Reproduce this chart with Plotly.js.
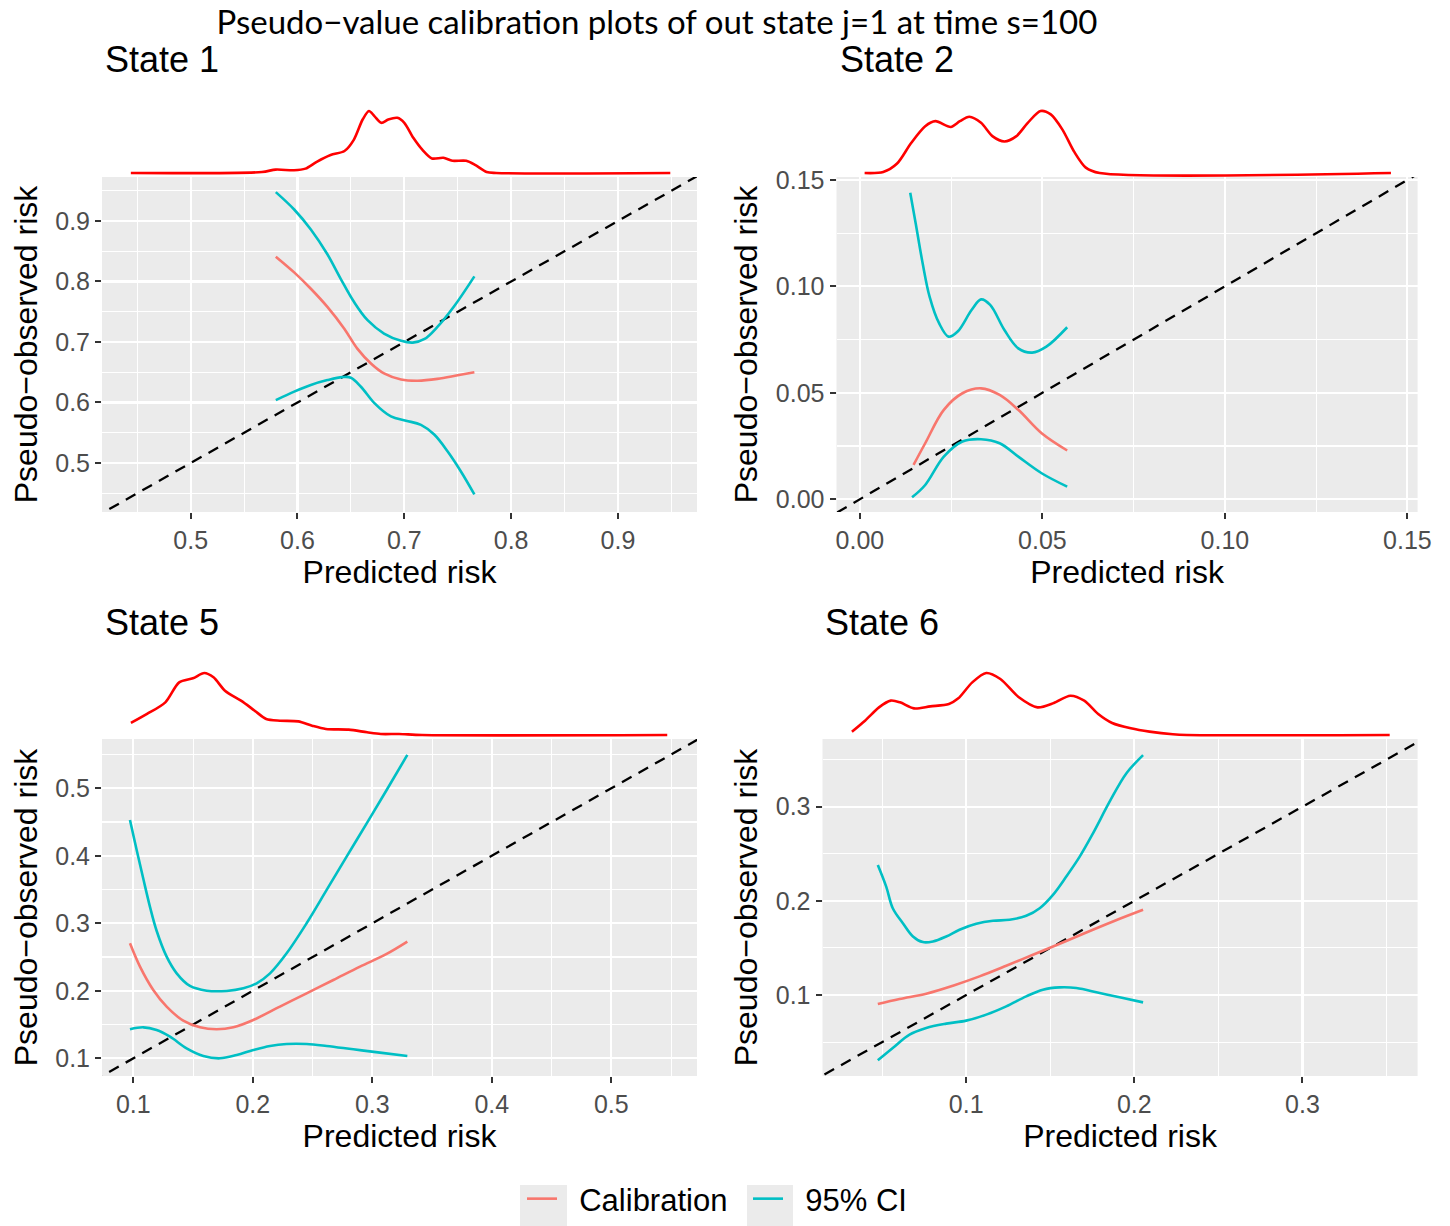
<!DOCTYPE html>
<html><head><meta charset="utf-8">
<script src="https://cdn.plot.ly/plotly-3.0.1.min.js"></script>
<style>html,body{margin:0;padding:0;background:#fff;}</style>
</head><body>
<div id="chart" style="width:1450px;height:1226px;"></div>
<script>
// ---------- DATA ----------
const panelTitles = ["State 1", "State 2", "State 5", "State 6"];
const mainTitle = "Pseudo\u2212value calibration plots of out state j=1 at time s=100";
const xTitle = "Predicted risk";
const yTitle = "Pseudo\u2212observed risk";
const legendNames = ["Calibration", "95% CI"];
const diagLine = [-1, 2];

// State 1
const s1_cal_x = [0.5797, 0.5969, 0.6125, 0.628, 0.6438, 0.656, 0.669, 0.681, 0.697, 0.7125, 0.731, 0.75, 0.7656];
const s1_cal_y = [0.841, 0.815, 0.788, 0.758, 0.722, 0.689, 0.664, 0.648, 0.638, 0.636, 0.639, 0.645, 0.650];
const s1_up_x = [0.5797, 0.5969, 0.6125, 0.628, 0.6406, 0.653, 0.6656, 0.681, 0.697, 0.708, 0.719, 0.731, 0.747, 0.7656];
const s1_up_y = [0.9477, 0.919, 0.886, 0.845, 0.804, 0.766, 0.736, 0.714, 0.702, 0.699, 0.705, 0.725, 0.760, 0.8085];
const s1_lo_x = [0.5797, 0.5969, 0.6125, 0.628, 0.642, 0.650, 0.6594, 0.672, 0.6875, 0.7016, 0.7156, 0.728, 0.7406, 0.753, 0.7656];
const s1_lo_y = [0.604, 0.618, 0.629, 0.637, 0.642, 0.641, 0.626, 0.599, 0.577, 0.570, 0.563, 0.547, 0.519, 0.486, 0.448];
const s1_den_x = [0.444, 0.5667, 0.5796, 0.5968, 0.6075, 0.618, 0.631, 0.644, 0.6527, 0.661, 0.6669, 0.672, 0.6785, 0.685, 0.6935, 0.700, 0.7086, 0.717, 0.7258, 0.7366, 0.745, 0.758, 0.7667, 0.777, 0.786, 0.949];
const s1_den_h = [0, 0.016, 0.055, 0.044, 0.071, 0.18, 0.29, 0.355, 0.535, 0.863, 1.0, 0.918, 0.809, 0.863, 0.89, 0.809, 0.563, 0.372, 0.235, 0.246, 0.197, 0.197, 0.126, 0.016, 0, 0];

// State 2
const s2_cal_x = [0.0147, 0.0179, 0.023, 0.0281, 0.0332, 0.0383, 0.0434, 0.0498, 0.0568];
const s2_cal_y = [0.0161, 0.0263, 0.042, 0.0498, 0.0521, 0.049, 0.042, 0.031, 0.0229];
const s2_up_x = [0.0138, 0.0153, 0.0172, 0.0191, 0.0217, 0.0243, 0.0268, 0.0306, 0.0332, 0.0357, 0.0396, 0.0434, 0.0472, 0.0511, 0.0568];
const s2_up_y = [0.144, 0.1296, 0.1109, 0.0952, 0.0827, 0.0764, 0.0788, 0.0889, 0.0939, 0.0913, 0.0795, 0.0709, 0.0689, 0.0717, 0.0808];
const s2_lo_x = [0.0143, 0.0179, 0.023, 0.0281, 0.0332, 0.0383, 0.0434, 0.0498, 0.0568];
const s2_lo_y = [0.0009, 0.0067, 0.020, 0.0271, 0.0282, 0.0263, 0.020, 0.0122, 0.0059];
const s2_den_x = [0.0013, 0.0064, 0.0102, 0.014, 0.0179, 0.0207, 0.0249, 0.0274, 0.030, 0.0332, 0.0364, 0.0396, 0.0428, 0.046, 0.0495, 0.0523, 0.0555, 0.0587, 0.0619, 0.0657, 0.1455];
const s2_den_h = [0, 0.016, 0.153, 0.48, 0.754, 0.836, 0.743, 0.836, 0.907, 0.809, 0.59, 0.508, 0.59, 0.809, 1.0, 0.945, 0.70, 0.344, 0.087, 0, 0];

// State 5
const s5_cal_x = [0.0972, 0.1056, 0.1167, 0.1279, 0.1418, 0.1558, 0.1697, 0.1837, 0.2004, 0.2227, 0.245, 0.2674, 0.2897, 0.312, 0.3293];
const s5_cal_y = [0.2704, 0.2358, 0.2012, 0.1765, 0.1558, 0.1459, 0.143, 0.1459, 0.1568, 0.1765, 0.1963, 0.216, 0.2358, 0.2546, 0.2728];
const s5_up_x = [0.0972, 0.1028, 0.1084, 0.114, 0.1195, 0.1279, 0.1363, 0.1474, 0.1614, 0.1781, 0.1921, 0.2032, 0.2144, 0.2283, 0.245, 0.2618, 0.2785, 0.2953, 0.312, 0.3293];
const s5_up_y = [0.453, 0.4086, 0.3655, 0.324, 0.289, 0.2506, 0.2259, 0.2072, 0.2002, 0.1998, 0.2037, 0.2111, 0.2259, 0.2556, 0.30, 0.3494, 0.3988, 0.4481, 0.4975, 0.5494];
const s5_lo_x = [0.0972, 0.1084, 0.1195, 0.1307, 0.1446, 0.1586, 0.1725, 0.1865, 0.2004, 0.2144, 0.2283, 0.245, 0.2618, 0.2841, 0.3064, 0.3293];
const s5_lo_y = [0.143, 0.1459, 0.142, 0.1321, 0.1148, 0.1035, 0.100, 0.1049, 0.1123, 0.1183, 0.1212, 0.1212, 0.1183, 0.1133, 0.1084, 0.1035];
const s5_den_x = [0.098, 0.1115, 0.1268, 0.1384, 0.1499, 0.1594, 0.1671, 0.1767, 0.1901, 0.2016, 0.2112, 0.2227, 0.238, 0.2496, 0.2611, 0.2802, 0.2956, 0.3071, 0.3224, 0.3416, 0.5468];
const s5_den_h = [0.194, 0.339, 0.527, 0.849, 0.914, 1.0, 0.93, 0.715, 0.554, 0.392, 0.258, 0.231, 0.22, 0.15, 0.097, 0.086, 0.043, 0.016, 0.016, 0, 0];

// State 6
const s6_cal_x = [0.0474, 0.0603, 0.0762, 0.0921, 0.1079, 0.1238, 0.1397, 0.1556, 0.1714, 0.1873, 0.2052];
const s6_cal_y = [0.0905, 0.0958, 0.1014, 0.1099, 0.1198, 0.1311, 0.1428, 0.1544, 0.1664, 0.1781, 0.1905];
const s6_up_x = [0.0474, 0.0524, 0.0563, 0.0623, 0.0683, 0.0742, 0.0802, 0.0881, 0.096, 0.106, 0.1159, 0.1258, 0.1357, 0.1437, 0.1516, 0.1595, 0.1675, 0.1754, 0.1853, 0.1952, 0.2052];
const s6_up_y = [0.2382, 0.2152, 0.1922, 0.1763, 0.1622, 0.1562, 0.1569, 0.1622, 0.1693, 0.1756, 0.1788, 0.1799, 0.1841, 0.1922, 0.2064, 0.2258, 0.247, 0.2717, 0.3053, 0.3353, 0.3548];
const s6_lo_x = [0.0474, 0.0563, 0.0663, 0.0762, 0.0881, 0.100, 0.1119, 0.1238, 0.1357, 0.1456, 0.1556, 0.1655, 0.1794, 0.1933, 0.2052];
const s6_lo_y = [0.0307, 0.0438, 0.058, 0.065, 0.0696, 0.0728, 0.0792, 0.088, 0.0986, 0.1057, 0.1081, 0.1074, 0.1021, 0.0968, 0.0922];
const s6_den_x = [0.032, 0.0398, 0.0481, 0.0551, 0.0606, 0.0689, 0.0786, 0.0897, 0.0953, 0.1036, 0.1119, 0.1203, 0.1313, 0.1424, 0.1521, 0.1619, 0.1702, 0.1785, 0.1868, 0.1979, 0.209, 0.2229, 0.2312, 0.3519];
const s6_den_h = [0.054, 0.231, 0.446, 0.554, 0.527, 0.43, 0.462, 0.5, 0.591, 0.849, 1.0, 0.903, 0.608, 0.446, 0.516, 0.634, 0.554, 0.339, 0.194, 0.108, 0.054, 0.011, 0, 0];

// axis ranges and ticks per panel
const xRanges = [[0.417, 0.974], [-0.0064, 0.1528], [0.0738, 0.5717], [0.0145, 0.3685]];
const yRanges = [[0.419, 0.9727], [-0.006, 0.1514], [0.0738, 0.573], [0.014, 0.3719]];
const dticks = [0.1, 0.05, 0.1, 0.1];
const tickFormats = [".1f", ".2f", ".1f", ".1f"];

// ---------- STYLE / LAYOUT ----------
const W = 1450, H = 1226;
const COL_CAL = "#F8766D", COL_CI = "#00BFC4", COL_DEN = "#FF0000";
const FONT = "Liberation Sans, Arial, sans-serif";
const pxX = (a, b) => [a / W, b / W];
const pxY = (top, bottom) => [1 - bottom / H, 1 - top / H];

const panels = [
  {cal: [s1_cal_x, s1_cal_y], up: [s1_up_x, s1_up_y], lo: [s1_lo_x, s1_lo_y], den: [s1_den_x, s1_den_h],
   xd: pxX(102, 697), yd: pxY(177, 512), dd: pxY(97, 177), tx: 103, ty: 60},
  {cal: [s2_cal_x, s2_cal_y], up: [s2_up_x, s2_up_y], lo: [s2_lo_x, s2_lo_y], den: [s2_den_x, s2_den_h],
   xd: pxX(836.5, 1417.6), yd: pxY(177, 512), dd: pxY(97, 177), tx: 838, ty: 60},
  {cal: [s5_cal_x, s5_cal_y], up: [s5_up_x, s5_up_y], lo: [s5_lo_x, s5_lo_y], den: [s5_den_x, s5_den_h],
   xd: pxX(102, 697), yd: pxY(739, 1076), dd: pxY(659, 739), tx: 103, ty: 622},
  {cal: [s6_cal_x, s6_cal_y], up: [s6_up_x, s6_up_y], lo: [s6_lo_x, s6_lo_y], den: [s6_den_x, s6_den_h],
   xd: pxX(822.5, 1417.6), yd: pxY(739, 1076), dd: pxY(659, 739), tx: 823, ty: 622}
];

const traces = [];
const layout = {
  width: W, height: H,
  margin: {l: 0, r: 0, t: 0, b: 0, autoexpand: false},
  paper_bgcolor: "#ffffff", plot_bgcolor: "rgba(0,0,0,0)",
  font: {family: FONT, color: "#000"},
  showlegend: true,
  title: {text: mainTitle, x: 657 / W, xanchor: "center", y: 1 - 22 / H, yanchor: "middle",
          font: {family: "Lato, Liberation Sans, sans-serif", size: 33, color: "#000"}},
  legend: {orientation: "h", x: 522 / W, xanchor: "left", y: 0, yanchor: "bottom",
           font: {size: 31, family: FONT, color: "#000"}, entrywidth: 181, entrywidthmode: "pixels",
           bgcolor: "rgba(0,0,0,0)", traceorder: "normal"},
  shapes: [], annotations: []
};

panels.forEach((p, i) => {
  const n = i + 1;
  const xa = "x" + (n === 1 ? "" : n), ya = "y" + (n === 1 ? "" : n);
  const yd = "y" + (n + 4);
  const lineBase = {shape: "spline", smoothing: 1.0, width: 2.6};
  traces.push({x: diagLine, y: diagLine, xaxis: xa, yaxis: ya, mode: "lines", showlegend: false, hoverinfo: "skip",
               line: {color: "#000", width: 2.3, dash: "11px,8px"}});
  traces.push({x: p.up[0], y: p.up[1], xaxis: xa, yaxis: ya, mode: "lines", name: legendNames[1],
               legendgroup: "ci", showlegend: false, line: Object.assign({color: COL_CI}, lineBase)});
  traces.push({x: p.lo[0], y: p.lo[1], xaxis: xa, yaxis: ya, mode: "lines", name: legendNames[1],
               legendgroup: "ci", showlegend: false, line: Object.assign({color: COL_CI}, lineBase)});
  traces.push({x: p.cal[0], y: p.cal[1], xaxis: xa, yaxis: ya, mode: "lines", name: legendNames[0],
               legendgroup: "cal", showlegend: false, line: Object.assign({color: COL_CAL}, lineBase)});
  traces.push({x: p.den[0], y: p.den[1], xaxis: xa, yaxis: yd, mode: "lines", showlegend: false,
               line: {color: COL_DEN, width: 2.6, shape: "spline", smoothing: 0.8}});

  const axKey = n === 1 ? "" : n;
  layout["xaxis" + axKey] = {
    domain: p.xd, anchor: ya, range: xRanges[i], dtick: dticks[i], tick0: 0, tickformat: tickFormats[i],
    showgrid: true, gridcolor: "#ffffff", gridwidth: 2.2, zeroline: false, showline: false,
    ticks: "outside", ticklen: 6, tickwidth: 2, tickcolor: "#333333",
    tickfont: {size: 25, color: "#4D4D4D", family: FONT},
    minor: {dtick: dticks[i] / 2, tick0: 0, showgrid: true, gridcolor: "#ffffff", gridwidth: 1.1, ticks: ""},
    title: {text: xTitle, font: {size: 32, color: "#000", family: FONT}, standoff: 5},
    fixedrange: true
  };
  layout["yaxis" + axKey] = {
    domain: p.yd, anchor: xa, range: yRanges[i], dtick: dticks[i], tick0: 0, tickformat: tickFormats[i],
    showgrid: true, gridcolor: "#ffffff", gridwidth: 2.2, zeroline: false, showline: false,
    ticks: "outside", ticklen: 6, tickwidth: 2, tickcolor: "#333333",
    tickfont: {size: 25, color: "#4D4D4D", family: FONT},
    minor: {dtick: dticks[i] / 2, tick0: 0, showgrid: true, gridcolor: "#ffffff", gridwidth: 1.1, ticks: ""},
    title: {text: yTitle, font: {size: 32, color: "#000", family: FONT}, standoff: 8},
    fixedrange: true
  };
  layout["yaxis" + (n + 4)] = {
    domain: p.dd, anchor: xa, range: [-0.0645, 1.2258], showgrid: false, zeroline: false,
    showline: false, showticklabels: false, ticks: "", fixedrange: true
  };
  layout.shapes.push({type: "rect", xref: xa + " domain", yref: ya + " domain", x0: 0, x1: 1, y0: 0, y1: 1,
                      fillcolor: "#EBEBEB", line: {width: 0}, layer: "below"});
  layout.annotations.push({text: panelTitles[i], xref: "paper", yref: "paper", x: p.tx / W, y: 1 - p.ty / H,
                           xanchor: "left", yanchor: "middle", showarrow: false,
                           font: {size: 36, color: "#000", family: FONT}});
});

// legend entries (dummy traces carrying the legend only)
const legPad = "\u00A0\u00A0";
traces.push({x: [null], y: [null], mode: "lines", name: legPad + legendNames[0], legendgroup: "cal", showlegend: true,
             line: {color: COL_CAL, width: 2.6}});
traces.push({x: [null], y: [null], mode: "lines", name: legPad + legendNames[1], legendgroup: "ci", showlegend: true,
             line: {color: COL_CI, width: 2.6}});
// legend key backgrounds
layout.shapes.push({type: "rect", xref: "paper", yref: "paper", x0: 520 / W, x1: 567 / W, y0: 0, y1: 1 - 1185 / H,
                    fillcolor: "#EBEBEB", line: {width: 0}, layer: "below"});
layout.shapes.push({type: "rect", xref: "paper", yref: "paper", x0: 747 / W, x1: 793 / W, y0: 0, y1: 1 - 1185 / H,
                    fillcolor: "#EBEBEB", line: {width: 0}, layer: "below"});

Plotly.newPlot("chart", traces, layout, {staticPlot: true, displayModeBar: false});
</script>
</body></html>
